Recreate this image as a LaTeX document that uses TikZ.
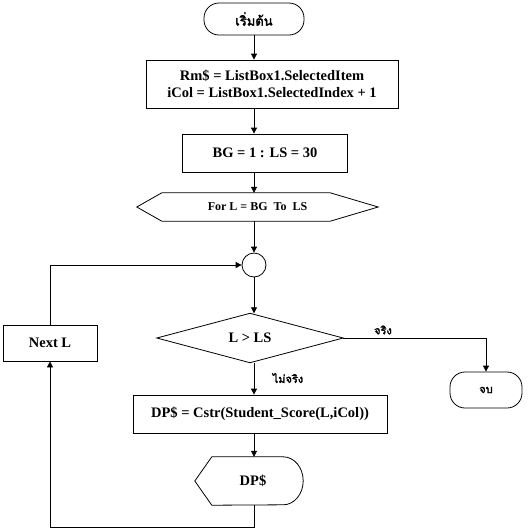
\documentclass[tikz,border=0pt]{standalone}
\usepackage{fontspec}
\setmainfont{Liberation Serif}
\newfontfamily\thaifont[Script=Thai, AutoFakeBold=2.5]{Loma}
\usetikzlibrary{arrows.meta}
\begin{document}
\begin{tikzpicture}[x=1pt,y=-1pt,
  every node/.style={font=\fontsize{14.5}{17}\selectfont\bfseries, inner sep=0pt},
  line/.style={draw=black, line width=0.8pt},
  arr/.style={line, -{Triangle[length=6pt,width=6pt]}},
  box/.style={draw=black, line width=0.8pt, rectangle, align=center},
  term/.style={draw=black, line width=0.8pt, rectangle, rounded corners=15pt},
  th/.style={font=\thaifont\bfseries\fontsize{11}{13}\selectfont}]
\useasboundingbox (0,0) rectangle (532,531);
% start
\node[term, minimum width=100pt, minimum height=32pt, font=\thaifont\bfseries\fontsize{13}{15}\selectfont] (start) at (254,19) {เริ่มต้น};
% box1
\node[box, minimum width=252pt, minimum height=48pt] (b1) at (272,84) {Rm\$ = ListBox1.SelectedItem\\iCol = ListBox1.SelectedIndex + 1};
% box2
\node[box, minimum width=165pt, minimum height=38pt] (b2) at (265,153) {BG = 1 : LS = 30};
% hexagon
\node[minimum width=241pt, minimum height=28pt, font=\fontsize{12}{14}\selectfont\bfseries] (hex) at (257.5,207) {For L = BG\ \ To\ \ LS};
\draw[line] (hex.west) -- ([xshift=25pt]hex.north west) -- ([xshift=-48pt]hex.north east) -- (hex.east) -- ([xshift=-48pt]hex.south east) -- ([xshift=25pt]hex.south west) -- cycle;
% connector circle
\node[draw=black, line width=0.8pt, circle, minimum size=24pt] (c) at (254,265) {};
% diamond
\node[minimum width=186pt, minimum height=49pt] (d) at (250,338) {L > LS};
\draw[line] (d.west) -- (d.north) -- (d.east) -- (d.south) -- cycle;
% end
\node[term, minimum width=72pt, minimum height=36pt, font=\thaifont\bfseries\fontsize{11}{13}\selectfont] (end) at (486,390) {จบ};
% Next L
\node[box, minimum width=94pt, minimum height=36pt] (next) at (50,343) {Next L};
% DP box
\node[box, minimum width=254pt, minimum height=38pt] (b3) at (260,414) {DP\$ = Cstr(Student\_Score(L,iCol))};
% display
\node[minimum width=108pt, minimum height=48pt] (disp) at (249,481) {\hspace*{8pt}DP\$};
\draw[line] (disp.west) -- ([xshift=17pt]disp.north west) -- ([xshift=-20pt]disp.north east)
  arc[start angle=90, end angle=-90, x radius=20pt, y radius=24pt] -- ([xshift=17pt]disp.south west) -- cycle;
% labels
\node[th] (lt) at (383,330) {จริง};
\node[th] (lf) at (288,378) {ไม่จริง};
\coordinate (bl) at (50,527);
% connectors
\draw[arr] (start.south) -- (start.south |- b1.north);
\draw[arr] (start.south |- b1.south) -- (start.south |- b2.north);
\draw[arr] (start.south |- b2.south) -- (start.south |- hex.north);
\draw[arr] (start.south |- hex.south) -- (c.north);
\draw[arr] (c.south) -- (c.south |- d.north);
\draw[arr] (c.south |- d.south) -- (c.south |- b3.north);
\draw[arr] (c.south |- b3.south) -- (c.south |- disp.north);
\draw[arr] (d.east) -| (end.north);
\draw[line] (c.south |- disp.south) |- (bl);
\draw[arr] (bl) -- (next.south);
\draw[arr] (next.north) |- (c.west);
\end{tikzpicture}
\end{document}
